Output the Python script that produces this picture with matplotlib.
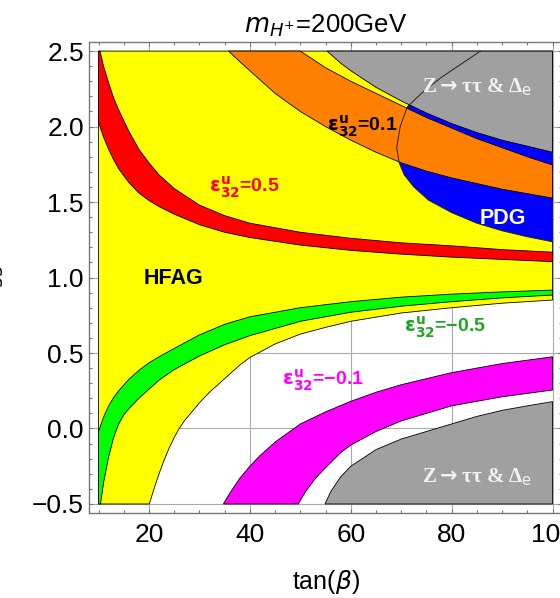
import numpy as np
import matplotlib
matplotlib.use("Agg")
import matplotlib.pyplot as plt

plt.rcParams['font.family'] = ['Liberation Sans', 'DejaVu Sans']
plt.rcParams['mathtext.fontset'] = 'dejavusans'

# HFAG (yellow) lower boundary
hfag_x = [10, 20.07, 21, 22, 23, 24, 25, 26, 27, 28, 30, 32, 35, 38, 40, 45, 50, 55, 60, 70, 80, 90, 100]
hfag_lo = [-0.5, -0.5, -0.40, -0.30, -0.21, -0.13, -0.06, 0.0, 0.05, 0.09, 0.17, 0.24, 0.33, 0.42, 0.47,
           0.56, 0.625, 0.67, 0.71, 0.765, 0.80, 0.83, 0.851]

# PDG (blue) boundary, walked from the top edge round to the right edge
pdg_x = [85.7, 81.7, 77.7, 74, 71.2, 69.8, 69.1, 69.6, 70.6, 72.5, 75.4, 80, 85, 90, 95, 100]
pdg_y = [2.5, 2.41, 2.32, 2.22, 2.13, 2.0, 1.86, 1.76, 1.68, 1.60, 1.513, 1.43, 1.36, 1.31, 1.27, 1.237]

# eps = 0.5 (red)
red_x_up = [10, 10.3, 11, 12, 13, 14, 15, 16, 18, 20, 22, 25, 30, 35, 40, 50, 60, 70, 80, 90, 100]
red_up = [2.5, 2.5, 2.40, 2.29, 2.19, 2.11, 2.04, 1.97, 1.85, 1.76, 1.68, 1.59, 1.48, 1.41, 1.36,
          1.30, 1.26, 1.23, 1.21, 1.185, 1.168]
red_x_lo = [10, 11, 12, 13, 14, 16, 18, 20, 22, 25, 30, 35, 40, 50, 60, 70, 80, 90, 100]
red_lo = [2.03, 1.93, 1.85, 1.78, 1.72, 1.63, 1.56, 1.51, 1.47, 1.42, 1.35, 1.30, 1.265, 1.215,
          1.18, 1.155, 1.135, 1.12, 1.105]

# eps = -0.5 (green)
grn_x_up = [10, 11, 12, 13, 14, 16, 18, 20, 22, 25, 30, 35, 40, 50, 60, 70, 80, 90, 100]
grn_up = [-0.02, 0.075, 0.15, 0.205, 0.25, 0.325, 0.385, 0.435, 0.475, 0.53, 0.62, 0.69, 0.74,
          0.80, 0.84, 0.87, 0.89, 0.905, 0.917]
grn_x_lo = [10, 10.4, 11, 12, 13, 14, 15, 16, 18, 20, 22, 25, 30, 35, 40, 50, 60, 70, 80, 90, 100]
grn_lo = [-0.5, -0.5, -0.36, -0.19, -0.06, 0.03, 0.09, 0.13, 0.20, 0.26, 0.32, 0.39, 0.48, 0.555,
          0.615, 0.71, 0.77, 0.81, 0.84, 0.865, 0.884]

# eps = 0.1 (orange)
org_x_up = [50, 55, 60, 65, 70, 75, 80, 85, 90, 95, 100]
org_up = [2.5, 2.39, 2.30, 2.22, 2.14, 2.06, 1.99, 1.92, 1.86, 1.80, 1.745]
org_x_lo = [35.8, 38, 40, 45, 50, 55, 60, 65, 70, 75, 80, 90, 100]
org_lo = [2.5, 2.43, 2.37, 2.22, 2.10, 2.0, 1.91, 1.83, 1.76, 1.705, 1.66, 1.585, 1.526]

# eps = -0.1 (magenta)
mag_x_up = [34.75, 36, 38, 40, 42, 45, 50, 55, 60, 65, 70, 80, 90, 100]
mag_up = [-0.5, -0.43, -0.33, -0.25, -0.18, -0.09, 0.03, 0.11, 0.18, 0.24, 0.29, 0.37, 0.43, 0.475]
mag_x_lo = [49.6, 51, 53, 55, 58, 60, 65, 70, 80, 90, 100]
mag_lo = [-0.5, -0.42, -0.33, -0.26, -0.16, -0.11, -0.02, 0.05, 0.15, 0.21, 0.255]

# Z->tautau & Delta_e excluded (gray), upper and lower pieces
zt_x_top = [55.3, 58, 60, 65, 70, 75, 80, 85, 90, 95, 100]
zt_top = [2.5, 2.42, 2.37, 2.26, 2.17, 2.09, 2.02, 1.96, 1.91, 1.87, 1.83]
zt_x_bot = [54.9, 56, 58, 60, 65, 70, 75, 80, 85, 90, 95, 100]
zt_bot = [-0.5, -0.42, -0.32, -0.25, -0.14, -0.07, -0.02, 0.03, 0.08, 0.12, 0.15, 0.178]

y_top, y_bot = 2.5, -0.5

fig = plt.figure(figsize=(5.6, 5.98), dpi=100)
ax = fig.add_axes([0.1595, 0.1421, 0.8436, 0.7871])

edge = dict(edgecolor='black', linewidth=0.6)

# yellow HFAG
ax.fill(hfag_x + [100, 10], hfag_lo + [y_top, y_top], facecolor='#FFFF00', zorder=2, **edge)
# blue PDG
ax.fill(pdg_x + [100], pdg_y + [y_top], facecolor='#0000FF', edgecolor='none', zorder=3)
# bands
ax.fill(red_x_up + red_x_lo[::-1], red_up + red_lo[::-1], facecolor='#FF0000', zorder=4, **edge)
ax.fill(grn_x_up + grn_x_lo[::-1], grn_up + grn_lo[::-1], facecolor='#00FF00', zorder=4, **edge)
ax.fill(org_x_lo + org_x_up[::-1], org_lo + org_up[::-1], facecolor='#FF8000', zorder=4, **edge)
ax.fill(mag_x_up + mag_x_lo[::-1], mag_up + mag_lo[::-1], facecolor='#FF00FF', zorder=4, **edge)
# gray
ax.fill(zt_x_top + [100], zt_top + [y_top], facecolor='#A0A0A0', zorder=5, **edge)
ax.fill(zt_x_bot + [100], zt_bot + [y_bot], facecolor='#A0A0A0', zorder=5, **edge)
# PDG outline drawn over everything
ax.plot(pdg_x, pdg_y, color='#222222', lw=0.7, zorder=6)

ax.set_xlim(8.18, 101.82)
ax.set_ylim(-0.56, 2.558)
ax.set_xticks([20, 40, 60, 80, 100])
ax.set_xticks(np.arange(10, 101, 5), minor=True)
ax.set_yticks(np.arange(-0.5, 2.51, 0.5))
ax.set_yticks(np.arange(-0.5, 2.51, 0.1), minor=True)
ax.set_yticklabels(['\u22120.5', '0.0', '0.5', '1.0', '1.5', '2.0', '2.5'])
ax.grid(True, which='major', color='#AAAAAA', lw=0.8, zorder=1)
ax.set_axisbelow(True)
ax.tick_params(which='both', direction='in', top=True, right=True, color='#777777', width=0.8)
ax.tick_params(which='major', length=3.2, labelsize=19, pad=4)
ax.tick_params(axis='x', which='major', pad=7)
ax.tick_params(which='minor', length=1.9)
for s in ax.spines.values():
    s.set_color('#777777')
    s.set_linewidth(1)

ax.set_xlabel(r'tan($\beta$)', fontsize=18, labelpad=15)
ax.set_title(r'$m_{H^{+}}$=200GeV', fontsize=18.5, pad=7)
fig.text(6 / 560, 0.557, r'$\epsilon^{\ell}_{33}/y_{\tau}$', rotation=90,
         ha='right', va='center', fontsize=18)

minus = '\u2212'
lab = dict(fontsize=14, fontweight='bold', zorder=7, va='center')
ax.text(31.9, 1.6, r'$\mathbf{\epsilon^{u}_{32}}$=0.5', color='#FF0000', **lab)
ax.text(55.3, 2.0, r'$\mathbf{\epsilon^{u}_{32}}$=0.1', color='black', **lab)
ax.text(70.5, 0.67, r'$\mathbf{\epsilon^{u}_{32}}$=' + minus + '0.5', color='#1FA51F', **lab)
ax.text(46.4, 0.32, r'$\mathbf{\epsilon^{u}_{32}}$=' + minus + '0.1', color='#FF00FF', **lab)
ax.text(24.9, 0.993, 'HFAG', ha='center', va='center', fontsize=15.5, fontweight='bold', zorder=7)
ax.text(90.1, 1.394, 'PDG', ha='center', va='center', fontsize=15.5, fontweight='bold',
        color='white', zorder=7)
zl = r'Z$\mathbf{\rightarrow}$' + '\u03c4\u03c4 & \u0394$_{\\mathrm{e}}$'
for zy in (2.26, -0.32):
    ax.text(85, zy, zl, ha='center', va='center', fontsize=15, fontweight='bold', color='#F2F2F2',
            family=['Liberation Serif', 'DejaVu Serif'], zorder=7)

fig.savefig('out.png', dpi=100)
